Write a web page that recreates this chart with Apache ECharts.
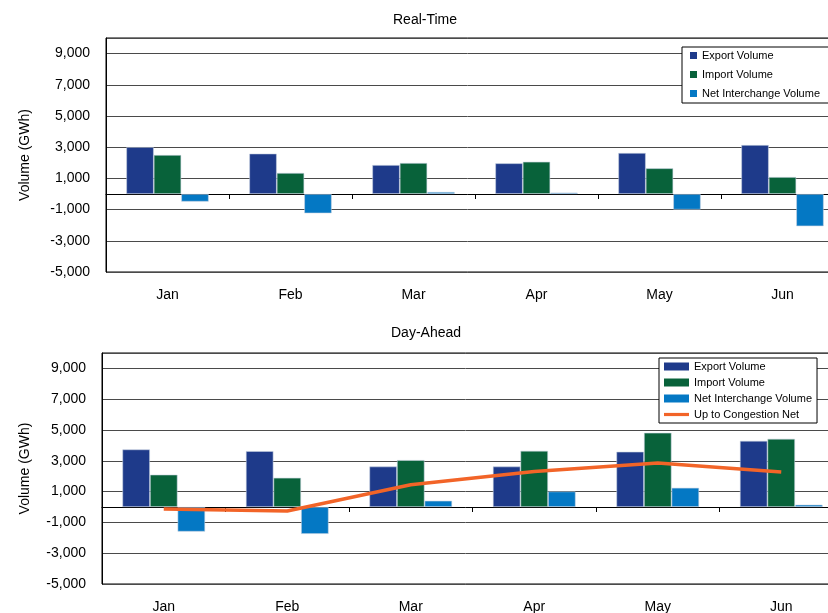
<!DOCTYPE html>
<html>
<head>
<meta charset="utf-8">
<script src="https://cdn.jsdelivr.net/npm/echarts@6/dist/echarts.min.js"></script>
<style>
html,body{margin:0;padding:0;background:#fff;}
#chart{width:828px;height:613px;}
</style>
</head>
<body>
<div id="chart"></div>
<script>
const months = ['Jan', 'Feb', 'Mar', 'Apr', 'May', 'Jun'];
const rtExport = [3010, 2590, 1860, 1970, 2630, 3140];
const rtImport = [2500, 1350, 1990, 2070, 1650, 1090];
const rtNet = [-490, -1240, 130, 90, -1000, -2070];
const daExport = [3740, 3630, 2630, 2630, 3590, 4300];
const daImport = [2100, 1900, 3050, 3650, 4820, 4430];
const daNet = [-1600, -1750, 410, 1010, 1250, 150];
const daCongestion = [-130, -260, 1440, 2310, 2850, 2270];
const titles = ['Real-Time', 'Day-Ahead'];
const seriesNames = ['Export Volume', 'Import Volume', 'Net Interchange Volume', 'Up to Congestion Net'];
const yName = 'Volume (GWh)';

const C_EXP = '#1E3A8A', C_IMP = '#08623A', C_NET = '#0478C4', C_LINE = '#F26428';
const FONT = "'Liberation Sans', Arial, sans-serif";

function fmt(v) { return v.toLocaleString('en-US'); }

function yAxis(gridIndex, gap) {
  return {
    type: 'value', gridIndex: gridIndex, min: -5000, max: 10000, interval: 2000,
    name: yName, nameLocation: 'middle', nameGap: gap,
    nameTextStyle: { fontFamily: FONT, fontSize: 14, color: '#000' },
    axisLine: { show: true, lineStyle: { color: '#000', width: 1 } },
    axisTick: { show: false },
    axisLabel: { fontFamily: FONT, fontSize: 14, color: '#000', margin: 16, showMaxLabel: false, formatter: fmt },
    splitLine: { show: true, lineStyle: { color: '#4a4a4a', width: 1 } }
  };
}
function labelAxis(gridIndex) {
  return {
    type: 'category', gridIndex: gridIndex, data: months, position: 'bottom',
    axisLine: { show: false, onZero: false }, axisTick: { show: false },
    axisLabel: { fontFamily: FONT, fontSize: 14, color: '#000', margin: 16 }
  };
}
function zeroAxis(gridIndex) {
  return {
    type: 'category', gridIndex: gridIndex, data: months, position: 'bottom',
    axisLine: { show: true, onZero: true, lineStyle: { color: '#000', width: 1 } },
    axisTick: { show: true, length: 5, lineStyle: { color: '#000' } },
    axisLabel: { show: false }
  };
}
const barCommon = { type: 'bar', barGap: '0%', barCategoryGap: '33%' };
function bars(xi, yi, values, name, color) {
  return Object.assign({}, barCommon, {
    name: name, xAxisIndex: xi, yAxisIndex: yi, data: values,
    itemStyle: { color: color, borderColor: 'rgba(200,210,225,0.8)', borderWidth: 0.7 }
  });
}

const option = {
  animation: false,
  backgroundColor: '#fff',
  title: [
    { text: titles[0], left: 388, top: 8, textStyle: { fontFamily: FONT, fontSize: 14, fontWeight: 'normal', color: '#000' } },
    { text: titles[1], left: 386, top: 321, textStyle: { fontFamily: FONT, fontSize: 14, fontWeight: 'normal', color: '#000' } }
  ],
  grid: [
    { left: 106, top: 38, width: 738, height: 234, outerBoundsMode: 'none', containLabel: false, show: true, borderColor: '#000', borderWidth: 1, backgroundColor: 'transparent' },
    { left: 102, top: 353, width: 741, height: 231, outerBoundsMode: 'none', containLabel: false, show: true, borderColor: '#000', borderWidth: 1, backgroundColor: 'transparent' }
  ],
  legend: [
    {
      orient: 'vertical', left: 682, top: 47, padding: [3, 40, 4, 8], itemGap: 8,
      itemWidth: 7, itemHeight: 7, icon: 'rect',
      itemStyle: { borderWidth: 0 },
      backgroundColor: '#fff', borderColor: '#000', borderWidth: 1, borderRadius: 0,
      textStyle: { fontFamily: FONT, fontSize: 11, color: '#000' },
      data: seriesNames.slice(0, 3)
    },
    {
      orient: 'vertical', left: 659, top: 358, padding: [3, 5, 3, 5], itemGap: 5,
      itemWidth: 25, itemHeight: 8,
      itemStyle: { borderWidth: 0 },
      backgroundColor: '#fff', borderColor: '#000', borderWidth: 1, borderRadius: 0,
      textStyle: { fontFamily: FONT, fontSize: 11, color: '#000' },
      data: [
        { name: seriesNames[0], icon: 'rect' },
        { name: seriesNames[1], icon: 'rect' },
        { name: seriesNames[2], icon: 'rect' },
        { name: seriesNames[3], icon: 'path://M0,0 M0,2.4 L25,2.4 L25,5.6 L0,5.6 Z M25,8', itemStyle: { color: C_LINE, borderWidth: 0 } }
      ]
    }
  ],
  xAxis: [labelAxis(0), zeroAxis(0), labelAxis(1), zeroAxis(1)],
  yAxis: [yAxis(0, 74), yAxis(1, 70)],
  series: [
    bars(0, 0, rtExport, seriesNames[0], C_EXP),
    bars(0, 0, rtImport, seriesNames[1], C_IMP),
    bars(0, 0, rtNet, seriesNames[2], C_NET),
    bars(2, 1, daExport, seriesNames[0], C_EXP),
    bars(2, 1, daImport, seriesNames[1], C_IMP),
    bars(2, 1, daNet, seriesNames[2], C_NET),
    {
      type: 'line', name: seriesNames[3], xAxisIndex: 2, yAxisIndex: 1, data: daCongestion,
      symbol: 'none', z: 5,
      lineStyle: { color: C_LINE, width: 3.5 }, itemStyle: { color: C_LINE }
    }
  ]
};
const chart = echarts.init(document.getElementById('chart'), null, { renderer: 'canvas' });
chart.setOption(option);
</script>
</body>
</html>
